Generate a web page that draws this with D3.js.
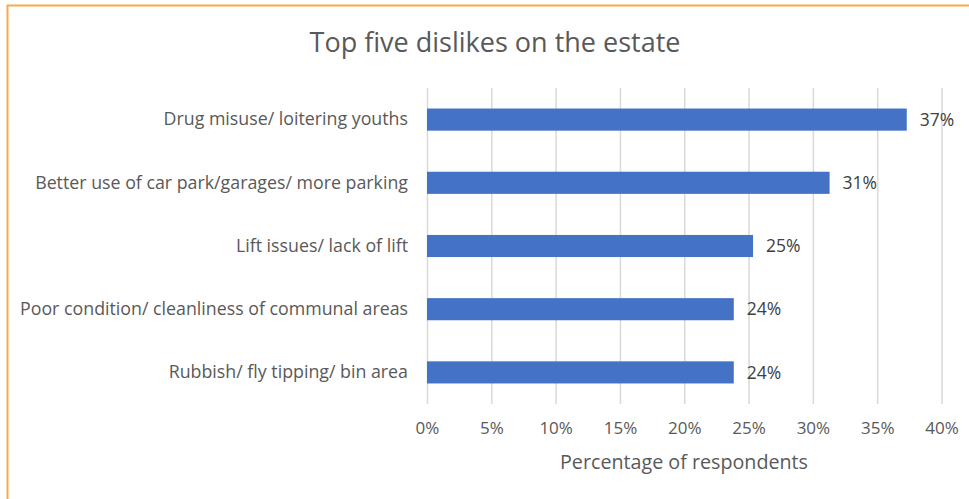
<!DOCTYPE html>
<html><head><meta charset="utf-8">
<script src="https://cdn.jsdelivr.net/npm/d3@7"></script>
<style>body{margin:0;background:#fff}svg{display:block}text{font-family:"Open Sans",sans-serif}</style>
</head><body><svg id="c" width="969" height="499"></svg>
<script>
const categories = ["Drug misuse/ loitering youths","Better use of car park/garages/ more parking","Lift issues/ lack of lift","Poor condition/ cleanliness of communal areas","Rubbish/ fly tipping/ bin area"];
const values = [37.3, 31.3, 25.35, 23.85, 23.85];
const valueLabels = ["37%","31%","25%","24%","24%"];
const ticks = [0,5,10,15,20,25,30,35,40];
const title = "Top five dislikes on the estate";
const xTitle = "Percentage of respondents";

const svg = d3.select("#c");
svg.append("rect").attr("x",7.5).attr("y",5.5).attr("width",990).attr("height",510)
  .attr("fill","none").attr("stroke","#F7A94F").attr("stroke-width",2);

const x = d3.scaleLinear().domain([0,40]).range([427,941.5]);
const y = d3.scaleBand().domain(categories).range([88,404]).paddingInner(0.65).paddingOuter(0.325);

svg.append("text").attr("x",495).attr("y",52).attr("text-anchor","middle")
  .attr("font-size",27).attr("fill","#595959").text(title);

const gx = svg.append("g").attr("transform","translate(0,404)")
  .call(d3.axisBottom(x).tickValues(ticks).tickSize(-316).tickFormat(d=>d+"%").tickPadding(18));
gx.select(".domain").remove();
gx.selectAll(".tick line").attr("stroke","#D9D9D9").attr("stroke-width",1.5);
gx.selectAll(".tick text").attr("font-size",17).attr("fill","#595959").attr("font-family","'Open Sans',sans-serif");

const gy = svg.append("g").attr("transform","translate(408,0)")
  .call(d3.axisLeft(y).tickSize(0).tickPadding(0));
gy.select(".domain").remove();
gy.selectAll(".tick text").attr("font-size",17.8).attr("fill","#595959").attr("font-family","'Open Sans',sans-serif");

svg.append("g").selectAll("rect").data(categories).join("rect")
  .attr("x",x(0)).attr("y",d=>y(d)).attr("height",y.bandwidth())
  .attr("width",(d,i)=>x(values[i])-x(0)).attr("fill","#4472C4");

svg.append("g").selectAll("text").data(categories).join("text")
  .attr("x",(d,i)=>x(values[i])+13).attr("y",d=>y(d)+y.bandwidth()/2).attr("dy","0.35em")
  .attr("font-size",17.5).attr("fill","#404040").text((d,i)=>valueLabels[i]);

svg.append("text").attr("x",684).attr("y",469).attr("text-anchor","middle")
  .attr("font-size",19.7).attr("fill","#595959").text(xTitle);
</script></body></html>
